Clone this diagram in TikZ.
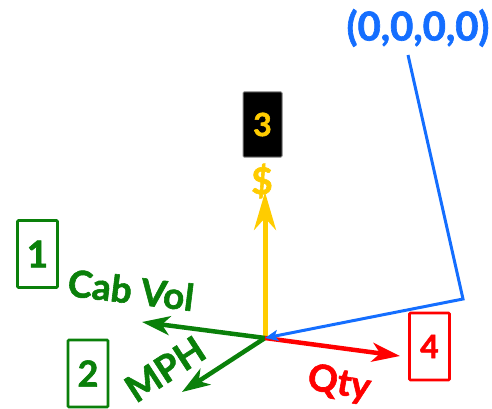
\documentclass[tikz,border=0pt]{standalone}
\usepackage{fontspec}
\setmainfont{Lato}[BoldFeatures={FakeBold=1.6}]
\usetikzlibrary{arrows.meta}
\definecolor{axgreen}{RGB}{10,128,10}
\definecolor{axyellow}{RGB}{255,204,0}
\definecolor{axred}{RGB}{255,0,0}
\definecolor{axblue}{RGB}{20,110,255}
\begin{document}
\begin{tikzpicture}[x=1pt,y=-1pt,
  fsz/.style={font=\bfseries\fontsize{#1}{#1}\selectfont},
  vec/.style={line width=4.5pt, line cap=butt,
    -{Stealth[length=28pt,width=19pt,inset=8pt]}},
  idbox/.style={draw, line width=2.8pt, rounded corners=1pt,
    minimum width=40pt, minimum height=67pt, inner sep=0pt, fsz=32},
  lbl/.style={inner sep=0pt, fsz=37}]
\useasboundingbox (0,0) rectangle (492,409);

% common origin of all axes
\coordinate (o) at (265,338);
\coordinate (ytip) at (265,192);
\coordinate (g1tip) at (142,322);
\coordinate (g2tip) at (182,392);
\coordinate (rtip) at (400,356);
\coordinate (bstart) at (408,55);
\coordinate (bcorner) at (463,299);

% axis arrows
\draw[vec, axyellow, line width=5pt,
  -{Stealth[length=38pt,width=22pt,inset=12pt]}] (o) -- (ytip);
\draw[vec, axgreen] (o) -- (g1tip);
\draw[vec, axgreen] (o) -- (g2tip);
\draw[vec, axred] (o) -- (rtip);
\draw[axblue, line width=3pt, line join=miter,
  -{Stealth[length=13pt,width=11pt,inset=3pt]}]
  (bstart) -- (bcorner) -- (o);

% axis labels
\node[lbl, text=axyellow] (dollar) at (262,181) {\$};
\node[lbl, text=axgreen, rotate=-7] (cabvol) at (131,290) {Cab Vol};
\node[lbl, text=axgreen, rotate=33] (mph) at (165,369) {MPH};
\node[lbl, text=axred, rotate=-10] (qty) at (339,384) {Qty};
\node[lbl, text=axblue, fsz=40] (zero) at (418,28) {(0,0,0,0)};

% numbered boxes
\node[idbox, draw=gray, fill=black, text=axyellow, line width=1pt,
  minimum width=39pt, minimum height=65pt] (b3) at (262.5,124.5) {3};
\node[idbox, draw=axgreen, text=axgreen, fsz=37] (b1) at (37.5,254) {1};
\node[idbox, draw=axgreen, text=axgreen, fsz=36] (b2) at (88,373.5) {2};
\node[idbox, draw=axred, text=axred] (b4) at (429.5,346.5) {4};
\end{tikzpicture}
\end{document}
